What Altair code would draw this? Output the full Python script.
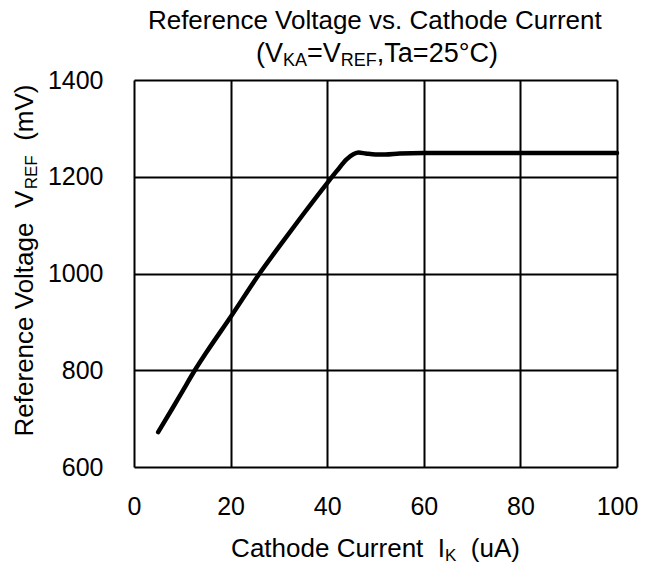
import altair as alt
import pandas as pd

# ---- data ----
cathode_current_uA = [5.0, 8.0, 10.0, 12.6, 15.0, 20.0, 26.0, 30.0, 35.0, 40.0, 42.0, 44.0,
                      45.5, 46.5, 48.0, 50.0, 52.0, 55.0, 60.0, 70.0, 80.0, 90.0, 100.0]
ref_voltage_mV = [672, 722, 756, 800, 837, 910, 1000, 1055, 1122, 1187, 1212, 1236,
                  1247, 1250, 1248, 1246, 1246, 1248, 1249, 1249, 1249, 1249, 1249]

x_ticks = [0, 20, 40, 60, 80, 100]
y_ticks = [600, 800, 1000, 1200, 1400]

FONT = "Liberation Sans"
W, H = 483, 387

# Arial / Liberation Sans advance widths (per 1000 em)
_AW = {" ": 278, "(": 333, ")": 333, "=": 584, ",": 278, ".": 278, "°": 400,
       "A": 667, "C": 722, "E": 667, "F": 611, "I": 278, "K": 667, "R": 722,
       "T": 611, "V": 667, "a": 556, "c": 500, "d": 556, "e": 556, "f": 278,
       "g": 556, "h": 556, "l": 222, "m": 833, "n": 556, "o": 556, "r": 333,
       "s": 500, "t": 278, "u": 556, "v": 500, "y": 500}


def tw(s, size):
    return sum(_AW.get(c, 556) for c in s) * size / 1000.0


def rich_text(segments, cx, cy, size, sub_size, sub_shift, vertical=False):
    """segments: list of (text, is_sub). Returns text-mark layers centred on cx (baseline cy).
    Leading/trailing spaces are turned into offsets, so they are never collapsed."""
    widths = [tw(t, sub_size if s else size) for t, s in segments]
    total = sum(widths)
    layers = []
    off = -total / 2.0
    for (t, s), w in zip(segments, widths):
        fs = sub_size if s else size
        lead = len(t) - len(t.lstrip(" "))
        core = t.strip(" ")
        o = off + lead * _AW[" "] * fs / 1000.0
        if not vertical:
            px, py, ang = cx + o, cy + (sub_shift if s else 0), 0
        else:
            px, py, ang = cx + (sub_shift if s else 0), cy - o, 270
        layers.append(
            alt.Chart(pd.DataFrame({"t": [core.replace("  ", "\u00a0\u00a0")]}))
            .mark_text(x=px, y=py, angle=ang, align="left", baseline="alphabetic",
                       font=FONT, fontSize=fs, color="black")
            .encode(text="t:N")
        )
        off += w
    return layers


df = pd.DataFrame({"I": cathode_current_uA, "V": ref_voltage_mV})

line = alt.Chart(df).mark_line(color="black", strokeWidth=4.5, strokeCap="round",
                               interpolate="monotone").encode(
    x=alt.X("I:Q", scale=alt.Scale(domain=[0, 100], nice=False),
            axis=alt.Axis(values=x_ticks, title=None, grid=True, gridColor="black",
                          gridWidth=2, gridOpacity=1, ticks=False, domain=False, format="d",
                          labelFont=FONT, labelFontSize=25, labelColor="black",
                          labelPadding=27, labelFlush=False)),
    y=alt.Y("V:Q", scale=alt.Scale(domain=[600, 1400], nice=False),
            axis=alt.Axis(values=y_ticks, title=None, grid=True, gridColor="black",
                          gridWidth=2, gridOpacity=1, ticks=False, domain=False, format="d",
                          labelFont=FONT, labelFontSize=25, labelColor="black",
                          labelPadding=31, labelFlush=False)),
)

texts = []
texts += rich_text([("Reference Voltage vs. Cathode Current", False)], W / 2, -51, 26, 17, 4)
texts += rich_text([("(V", False), ("KA", True), ("=V", False), ("REF", True),
                    (",Ta=25°C)", False)], W / 2 + 3, -18, 27, 18, 4)
texts += rich_text([("Cathode Current  I", False), ("K", True), ("  (uA)", False)],
                   W / 2, 477, 26, 17, 4)
texts += rich_text([("Reference Voltage  V", False), ("REF", True), ("  (mV)", False)],
                   -101, H / 2 - 13, 26, 17, 4, vertical=True)

chart = alt.layer(line, *texts).properties(
    width=W, height=H,
    autosize=alt.AutoSizeParams(type="none"),
    padding={"left": 126, "top": 72, "right": 25, "bottom": 99},
).configure_view(stroke="black", strokeWidth=3).configure(background="white")

chart.save("out.html", embed_options={"renderer": "svg", "actions": False})
